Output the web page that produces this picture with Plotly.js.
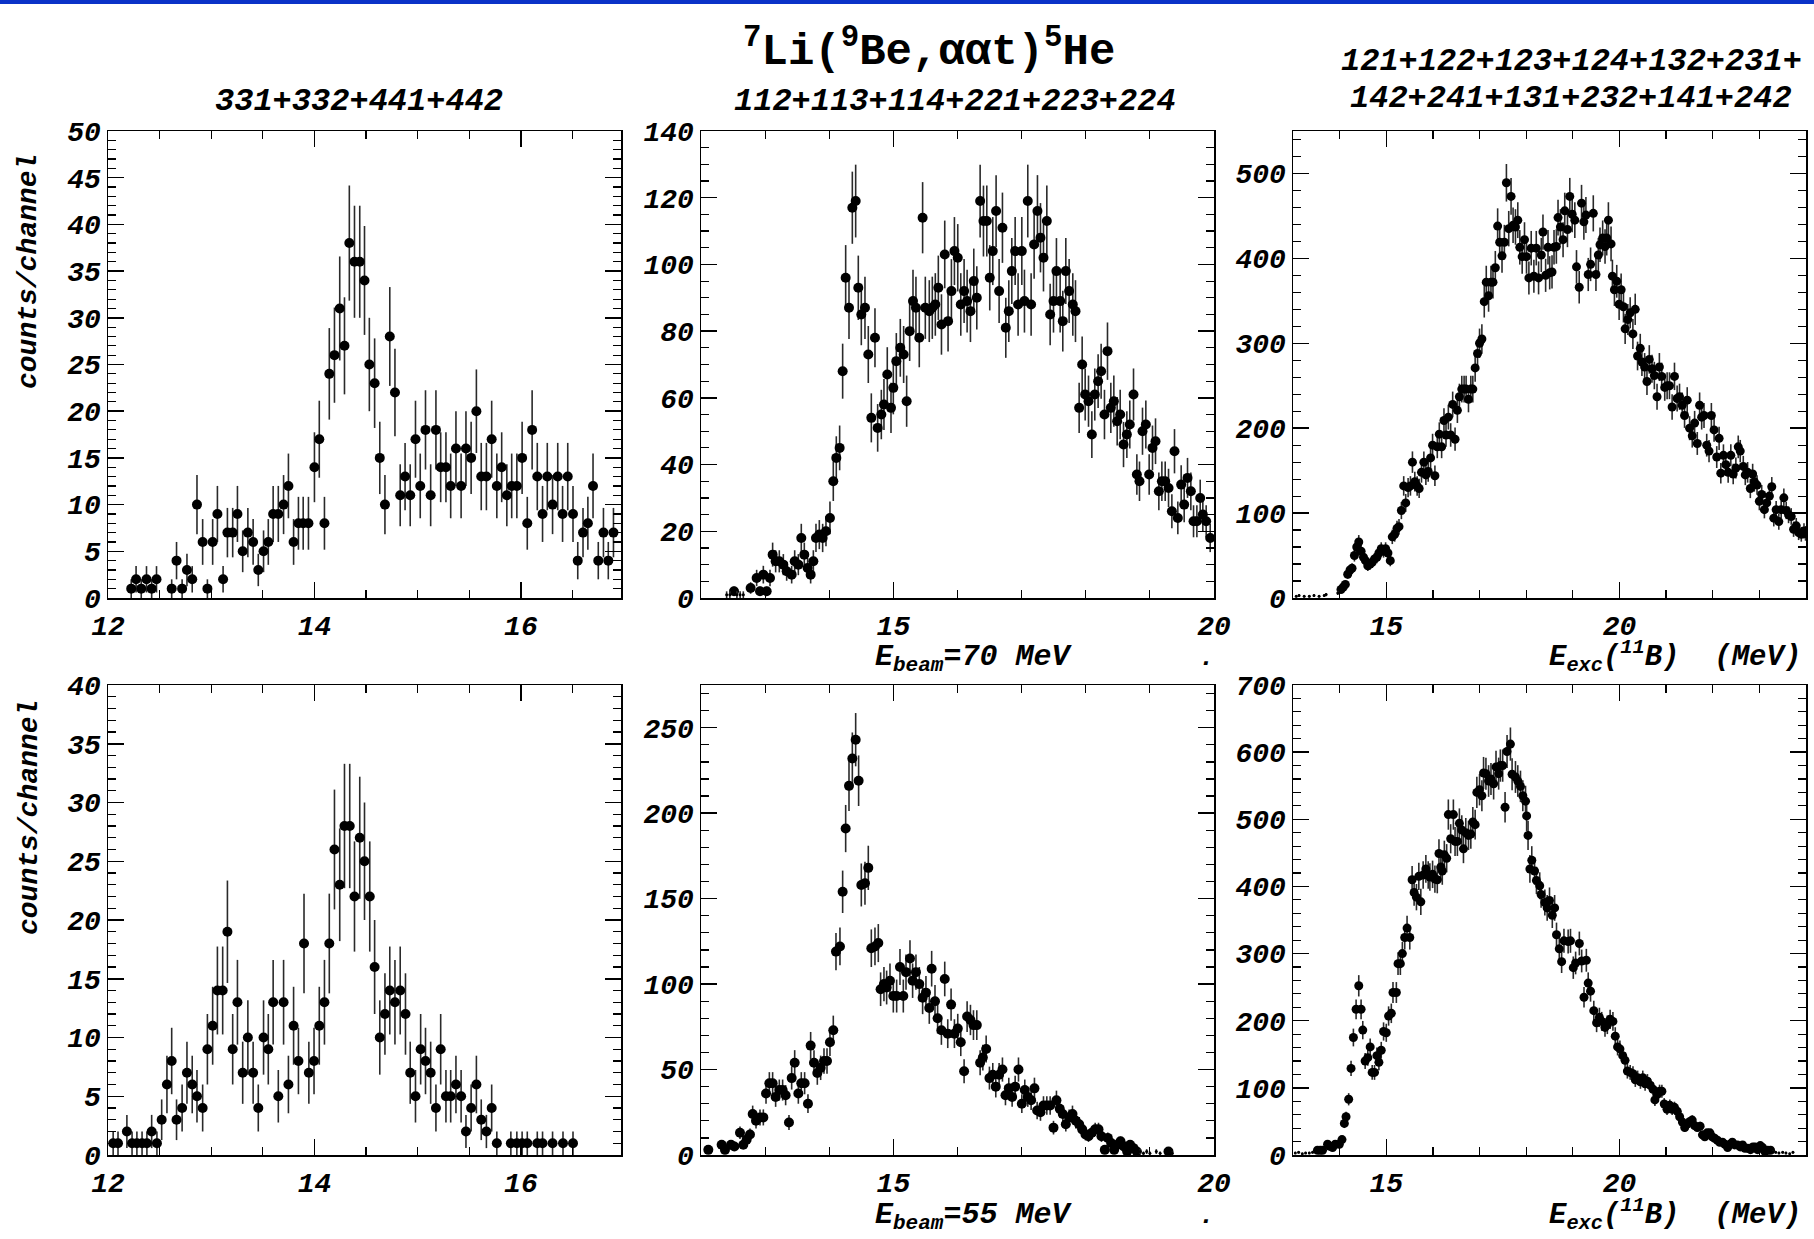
<!DOCTYPE html>
<html><head><meta charset="utf-8">
<script src="https://cdn.plot.ly/plotly-3.0.1.min.js"></script>
<style>html,body{margin:0;padding:0;background:#fff;}#chart{width:1814px;height:1239px;}</style>
</head><body><div id="chart"></div>
<script>
// ---------- DATA ----------
// Top-left: 331+332+441+442, E_beam = 70 MeV
const tlX = [12.225,12.272,12.322,12.373,12.423,12.470,12.617,12.664,12.718,12.765,
 12.816,12.862,12.917,12.963,13.014,13.060,13.115,13.157,13.208,13.254,
 13.305,13.355,13.406,13.456,13.507,13.553,13.600,13.650,13.701,13.748,
 13.798,13.845,13.891,13.942,14.000,14.047,14.097,14.144,14.194,14.245,
 14.291,14.338,14.388,14.439,14.485,14.532,14.583,14.633,14.683,14.730,
 14.780,14.831,14.878,14.928,14.979,15.025,15.076,15.126,15.177,15.223,
 15.274,15.320,15.371,15.421,15.468,15.518,15.569,15.616,15.666,15.717,
 15.767,15.814,15.864,15.911,15.961,16.012,16.062,16.109,16.159,16.210,
 16.256,16.307,16.357,16.404,16.454,16.505,16.551,16.602,16.649,16.699,
 16.750,16.800,16.847,16.897];
const tlY = [1,2,1,2,1,2,1,4,1,3,
 2,10,6,1,6,9,2,7,7,9,
 5,7,6,3,5,6,9,9,10,12,
 6,8,8,8,14,17,8,24,26,31,
 27,38,36,36,34,25,23,15,10,28,
 22,11,13,11,17,12,18,11,18,14,
 14,12,16,12,16,15,20,13,13,17,
 12,14,11,12,12,15,8,18,13,9,
 13,10,13,9,13,9,4,7,8,12,
 4,7,4,7];

// Top-middle: 112+113+114+221+223+224, E_beam = 70 MeV
const tmX = [12.515,12.774,12.868,12.920,12.972,13.024,13.076,13.117,13.164,13.221,
 13.284,13.336,13.414,13.461,13.518,13.564,13.611,13.663,13.710,13.752,
 13.793,13.845,13.897,13.949,14.011,14.063,14.110,14.162,14.209,14.256,
 14.308,14.360,14.412,14.453,14.500,14.557,14.609,14.656,14.713,14.755,
 14.812,14.853,14.905,14.963,14.999,15.046,15.108,15.160,15.207,15.254,
 15.306,15.352,15.404,15.456,15.498,15.560,15.607,15.654,15.701,15.750,
 15.801,15.853,15.905,15.952,16.004,16.051,16.103,16.150,16.202,16.254,
 16.301,16.353,16.405,16.457,16.503,16.550,16.602,16.649,16.701,16.753,
 16.800,16.847,16.899,16.945,17.003,17.044,17.096,17.148,17.195,17.247,
 17.294,17.341,17.393,17.445,17.497,17.543,17.601,17.642,17.689,17.741,
 17.798,17.840,17.897,17.944,17.991,18.043,18.095,18.141,18.193,18.240,
 18.292,18.339,18.391,18.438,18.490,18.537,18.589,18.641,18.687,18.745,
 18.797,18.838,18.885,18.937,18.989,19.041,19.088,19.140,19.187,19.239,
 19.291,19.343,19.384,19.436,19.488,19.535,19.587,19.639,19.681,19.733,
 19.785,19.826,19.878,19.941];
const tmY = [2,3,6,2,7,2,6,13,11,11,
 10,8,7,11,10,18,13,9,7,11,
 18,19,18,20,24,35,42,45,68,96,
 87,117,119,93,85,87,73,54,78,51,
 55,58,67,57,63,71,75,73,59,80,
 89,87,78,114,87,86,87,88,93,82,
 103,83,92,104,102,88,92,89,86,95,
 90,119,113,113,96,104,116,92,111,81,
 86,98,104,88,104,89,119,88,106,116,
 108,102,113,85,89,98,89,83,98,92,
 88,86,57,70,61,59,49,61,65,68,
 55,74,57,59,53,55,46,49,52,61,
 37,35,50,52,37,45,47,32,35,35,
 33,26,44,24,34,28,36,32,23,23,
 30,25,23,18];
const tmLowX = [12.40,12.45,12.56,12.61,12.66];
const tmLowY = [1,1,1,1,1];

// Top-right: sum of all combinations, E_beam = 70 MeV
const trX = [14.029,14.079,14.122,14.173,14.223,14.266,14.317,14.367,14.410,14.460,
 14.511,14.554,14.604,14.655,14.698,14.748,14.799,14.842,14.892,14.942,
 14.986,15.036,15.086,15.129,15.180,15.230,15.273,15.324,15.374,15.417,
 15.468,15.518,15.561,15.612,15.662,15.705,15.755,15.806,15.849,15.899,
 15.950,15.993,16.043,16.094,16.137,16.187,16.237,16.281,16.331,16.381,
 16.424,16.475,16.525,16.568,16.619,16.669,16.712,16.763,16.813,16.856,
 16.906,16.957,17.000,17.050,17.101,17.144,17.194,17.245,17.288,17.338,
 17.388,17.432,17.482,17.532,17.576,17.626,17.676,17.719,17.770,17.820,
 17.863,17.914,17.964,18.007,18.058,18.108,18.165,18.216,18.266,18.324,
 18.360,18.417,18.468,18.504,18.554,18.597,18.647,18.683,18.734,18.791,
 18.827,18.885,18.935,18.986,19.043,19.079,19.137,19.187,19.237,19.281,
 19.331,19.381,19.439,19.496,19.547,19.583,19.640,19.691,19.727,19.763,
 19.820,19.849,19.892,19.942,19.993,20.036,20.086,20.122,20.180,20.230,
 20.288,20.338,20.388,20.446,20.482,20.540,20.590,20.640,20.698,20.748,
 20.806,20.856,20.906,20.971,21.022,21.072,21.129,21.180,21.237,21.288,
 21.345,21.396,21.453,21.504,21.561,21.612,21.669,21.719,21.763,21.813,
 21.871,21.921,21.971,22.029,22.086,22.137,22.173,22.230,22.281,22.331,
 22.388,22.439,22.496,22.547,22.590,22.655,22.698,22.748,22.806,22.856,
 22.892,22.950,23.000,23.050,23.108,23.158,23.216,23.266,23.309,23.360,
 23.417,23.468,23.525,23.576,23.626,23.683,23.734,23.791,23.842,23.899,
 23.957,23.990];
const trY = [10,13,16,28,33,35,50,60,66,55,
 48,44,38,40,42,46,48,53,58,55,
 58,53,44,72,75,82,84,103,132,112,
 130,132,160,137,132,129,148,160,145,149,
 165,180,144,178,193,178,209,192,213,192,
 228,187,221,237,246,246,246,234,246,246,
 271,288,300,305,349,372,356,372,372,389,
 438,419,403,419,489,435,473,439,437,445,
 413,402,422,402,377,412,379,412,377,404,
 431,380,413,383,384,413,414,448,437,422,
 456,434,473,452,445,390,366,465,443,451,
 381,393,453,381,404,416,424,414,424,445,
 417,379,363,373,346,363,343,317,328,336,
 311,340,285,294,278,272,255,281,270,262,
 237,272,261,248,250,250,225,261,235,237,
 227,215,233,200,191,206,182,227,213,215,
 180,173,215,198,166,188,147,168,157,148,
 168,146,153,178,173,155,145,148,129,146,
 137,133,114,122,104,112,120,131,94,104,
 90,104,118,103,98,96,81,85,77,75,
 79,76];
const trLowX = [13.07,13.13,13.24,13.35,13.45,13.56,13.67,13.71,13.96];
const trLowY = [2,3,2,2,3,2,3,4,6];

// Bottom-left: 331+332+441+442, E_beam = 55 MeV
const blX = [12.050,12.097,12.183,12.233,12.280,12.330,12.377,12.423,12.474,12.520,
 12.571,12.617,12.664,12.718,12.765,12.816,12.862,12.917,12.963,13.014,
 13.060,13.111,13.157,13.208,13.254,13.305,13.355,13.406,13.456,13.507,
 13.553,13.600,13.650,13.701,13.748,13.798,13.845,13.899,13.946,13.996,
 14.047,14.097,14.144,14.194,14.245,14.291,14.342,14.388,14.439,14.485,
 14.536,14.583,14.633,14.683,14.730,14.780,14.831,14.882,14.928,14.979,
 15.029,15.076,15.126,15.177,15.223,15.274,15.320,15.371,15.421,15.468,
 15.518,15.569,15.616,15.666,15.717,15.767,15.903,15.961,16.012,16.062,
 16.159,16.210,16.307,16.408,16.505];
const blY = [1,1,2,1,1,1,1,2,1,3,
 6,8,3,4,7,6,5,4,9,11,
 14,14,19,9,13,7,10,7,4,10,
 9,13,5,13,6,11,8,18,7,8,
 11,13,18,26,23,28,28,22,27,25,
 22,16,10,12,14,13,14,12,7,5,
 9,8,7,4,9,5,5,6,5,2,
 4,6,3,2,4,1,1,1,1,1,
 1,1,1,1,1];

// Bottom-middle: 112+113+114+221+223+224, E_beam = 55 MeV
const bmX = [12.114,12.322,12.374,12.468,12.520,12.608,12.660,12.712,12.764,12.806,
 12.858,12.920,12.972,13.014,13.066,13.117,13.164,13.221,13.273,13.320,
 13.372,13.414,13.461,13.518,13.564,13.616,13.668,13.710,13.762,13.814,
 13.866,13.918,13.965,14.011,14.063,14.105,14.167,14.209,14.256,14.308,
 14.360,14.412,14.458,14.500,14.557,14.609,14.656,14.713,14.765,14.801,
 14.853,14.895,14.947,14.999,15.051,15.103,15.155,15.197,15.259,15.300,
 15.352,15.404,15.456,15.508,15.560,15.597,15.649,15.690,15.749,15.801,
 15.848,15.900,15.952,16.004,16.051,16.103,16.150,16.202,16.249,16.301,
 16.353,16.395,16.447,16.498,16.550,16.597,16.649,16.701,16.748,16.800,
 16.852,16.899,16.951,17.003,17.049,17.096,17.148,17.200,17.242,17.294,
 17.341,17.393,17.445,17.497,17.543,17.595,17.642,17.689,17.741,17.793,
 17.845,17.897,17.944,17.996,18.043,18.095,18.147,18.199,18.245,18.297,
 18.344,18.396,18.443,18.495,18.542,18.594,18.646,18.692,18.744,18.796,
 19.290];
const bmY = [3,6,3,6,5,13,6,9,12,24,
 20,22,22,36,42,42,34,38,38,35,
 19,45,54,36,42,42,30,64,54,48,
 51,55,55,66,73,119,122,154,191,216,
 232,243,219,158,159,168,121,122,124,97,
 100,98,102,93,93,110,93,107,115,102,
 107,100,92,95,86,109,90,80,73,103,
 71,88,71,74,66,49,81,79,76,76,
 54,57,62,45,47,40,47,50,35,39,
 34,40,50,30,38,34,32,39,26,25,
 29,29,29,16,32,27,24,18,22,24,
 20,18,15,12,11,13,15,15,11,3,
 10,7,3,6,8,5,2,6,4,2,
 2];
const bmLowX = [18.85,18.90,18.95,19.00,19.10,19.16,19.35];
const bmLowY = [2,1,2,1,2,1,1];

// Bottom-right: sum of all combinations, E_beam = 55 MeV
const brX = [13.525,13.583,13.633,13.741,13.791,13.849,13.906,13.993,14.050,14.101,
 14.137,14.194,14.245,14.295,14.353,14.410,14.460,14.496,14.547,14.604,
 14.655,14.698,14.748,14.799,14.842,14.892,14.942,15.000,15.050,15.108,
 15.144,15.216,15.252,15.302,15.345,15.396,15.446,15.504,15.554,15.597,
 15.647,15.698,15.741,15.791,15.849,15.899,15.935,15.993,16.043,16.094,
 16.130,16.170,16.201,16.245,16.295,16.331,16.381,16.439,16.475,16.525,
 16.568,16.619,16.655,16.705,16.763,16.813,16.856,16.906,16.942,17.000,
 17.050,17.086,17.137,17.194,17.245,17.302,17.353,17.410,17.446,17.496,
 17.547,17.590,17.662,17.698,17.770,17.820,17.878,17.928,17.986,18.010,
 18.040,18.080,18.120,18.180,18.220,18.290,18.320,18.400,18.450,18.500,
 18.560,18.610,18.650,18.710,18.760,18.810,18.900,18.950,19.010,19.060,
 19.140,19.190,19.240,19.290,19.330,19.380,19.450,19.510,19.570,19.620,
 19.690,19.740,19.800,19.860,19.910,19.960,20.010,20.070,20.120,20.170,
 20.230,20.290,20.340,20.390,20.450,20.500,20.550,20.600,20.660,20.720,
 20.760,20.810,20.860,20.910,20.960,21.020,21.080,21.130,21.180,21.240,
 21.290,21.350,21.400,21.450,21.510,21.560,21.610,21.670,21.730,21.780,
 21.830,21.880,21.940,21.990,22.040,22.100,22.150,22.210,22.260,22.320,
 22.370,22.420,22.470,22.530,22.590,22.640,22.690,22.750,22.810,22.860,
 22.910,22.960,23.020,23.070,23.120,23.180,23.240];
const brY = [7,7,7,16,13,11,16,16,23,47,
 57,83,129,175,217,252,217,186,140,145,
 161,123,123,148,138,156,184,182,207,211,
 242,242,285,285,300,324,338,324,410,391,
 384,415,377,417,426,417,414,418,411,410,
 449,429,423,447,442,507,471,507,467,467,
 494,484,456,480,476,478,496,492,540,544,
 535,569,568,557,560,553,578,568,580,580,
 518,601,612,567,563,557,549,535,527,505,
 476,426,439,423,409,401,388,376,368,379,
 357,368,328,307,288,319,318,319,279,286,
 315,289,235,290,256,244,215,197,205,199,
 190,194,202,199,177,161,158,148,141,125,
 123,121,112,115,109,115,106,110,104,98,
 82,90,95,95,76,68,74,68,71,65,
 57,49,41,46,50,52,44,41,43,30,
 27,33,33,27,25,22,19,19,16,11,
 16,19,15,15,12,15,10,10,8,12,
 12,8,14,11,5,7,7];
const brLowX = [13.05,13.12,13.20,13.27,13.35,13.42,23.29,23.35,23.42,23.50,23.57,23.65,23.72];
const brLowY = [3,4,2,3,3,4,5,4,3,4,3,2,4];

// Text
const mainTitle = '<sup>7</sup>Li(<sup>9</sup>Be,\u03b1\u03b1t)<sup>5</sup>He';
const subTL = '331+332+441+442';
const subTM = '112+113+114+221+223+224';
const subTR1 = '121+122+123+124+132+231+';
const subTR2 = '142+241+131+232+141+242';
const yTitle = 'counts/channel';
const xBeam70 = 'E<sub>beam</sub>=70 MeV';
const xBeam55 = 'E<sub>beam</sub>=55 MeV';
const xExc = 'E<sub>exc</sub>(<sup>11</sup>B)\u00a0\u00a0(MeV)';

// ---------- LAYOUT ----------
const W = 1814, H = 1239;
const FONT = '"Liberation Mono", "Courier New", monospace';
const tickFont = {family: FONT, size: 28, weight: 'bold', style: 'italic', color: '#000'};
const px = v => v / W, py = v => 1 - v / H;

const cols = [[108, 621], [701, 1214], [1293, 1806]];
const rows = [[131, 598], [685, 1155]];

function xAxis(col, row, range, dtick, minor, anchor) {
  return {
    domain: [px(cols[col][0]), px(cols[col][1])], range, dtick, tick0: 0,
    ticks: 'inside', ticklen: 16, tickwidth: 1.5, tickcolor: '#000',
    minor: {dtick: minor, tick0: 0, ticks: 'inside', ticklen: 8, tickwidth: 1.2, tickcolor: '#000', showgrid: false},
    showline: true, linecolor: '#000', linewidth: 1.5, mirror: 'allticks',
    showgrid: false, zeroline: false, anchor, tickfont: tickFont, ticklabelstandoff: 2, fixedrange: true
  };
}
function yAxis(col, row, range, dtick, minor, anchor) {
  return {
    domain: [py(rows[row][1]), py(rows[row][0])], range, dtick, tick0: 0,
    ticks: 'inside', ticklen: 16, tickwidth: 1.5, tickcolor: '#000',
    minor: {dtick: minor, tick0: 0, ticks: 'inside', ticklen: 8, tickwidth: 1.2, tickcolor: '#000', showgrid: false},
    showline: true, linecolor: '#000', linewidth: 1.5, mirror: 'allticks',
    showgrid: false, zeroline: false, anchor, tickfont: tickFont, fixedrange: true
  };
}

function pts(x, y, n, size) {
  return {
    type: 'scatter', mode: 'markers', x, y,
    xaxis: n === 1 ? 'x' : 'x' + n, yaxis: n === 1 ? 'y' : 'y' + n,
    marker: {color: '#000', size},
    error_y: {type: 'sqrt', visible: true, color: '#2a2a2a', thickness: 1.6, width: 0},
    hoverinfo: 'skip', showlegend: false, cliponaxis: true
  };
}

const data = [
  pts(tlX, tlY, 1, 10),
  pts(tmX, tmY, 2, 10), pts(tmLowX, tmLowY, 2, 3),
  pts(trX, trY, 3, 9), pts(trLowX, trLowY, 3, 3),
  pts(blX, blY, 4, 10),
  pts(bmX, bmY, 5, 10), pts(bmLowX, bmLowY, 5, 3),
  pts(brX, brY, 6, 9), pts(brLowX, brLowY, 6, 3)
];

function ann(text, x, y, size, opts) {
  return Object.assign({
    text, x, y, xref: 'paper', yref: 'paper', showarrow: false,
    xanchor: 'center', yanchor: 'middle',
    font: {family: FONT, size, weight: 'bold', style: 'italic', color: '#000'}
  }, opts || {});
}

const layout = {
  width: W, height: H, margin: {l: 0, r: 0, t: 0, b: 0},
  paper_bgcolor: '#fff', plot_bgcolor: '#fff', showlegend: false,
  xaxis:  xAxis(0, 0, [12, 16.97], 2, 0.5, 'y'),
  yaxis:  yAxis(0, 0, [0, 50], 5, 1, 'x'),
  xaxis2: xAxis(1, 0, [12, 20], 5, 1, 'y2'),
  yaxis2: yAxis(1, 0, [0, 140], 20, 5, 'x2'),
  xaxis3: xAxis(2, 0, [13, 24], 5, 1, 'y3'),
  yaxis3: yAxis(2, 0, [0, 550], 100, 20, 'x3'),
  xaxis4: xAxis(0, 1, [12, 16.97], 2, 0.5, 'y4'),
  yaxis4: yAxis(0, 1, [0, 40], 5, 1, 'x4'),
  xaxis5: xAxis(1, 1, [12, 20], 5, 1, 'y5'),
  yaxis5: yAxis(1, 1, [0, 275], 50, 10, 'x5'),
  xaxis6: xAxis(2, 1, [13, 24], 5, 1, 'y6'),
  yaxis6: yAxis(2, 1, [0, 700], 100, 20, 'x6'),
  shapes: [{type: 'rect', xref: 'paper', yref: 'paper', x0: 0, x1: 1, y0: py(4), y1: 1,
            fillcolor: '#0a32c8', line: {width: 0}, layer: 'above'}],
  annotations: [
    ann(mainTitle, px(929), py(49), 44, {font: {family: FONT, size: 44, weight: 'bold', color: '#000'}}),
    ann(subTL, px(359), py(102), 32),
    ann(subTM, px(955), py(102), 32),
    ann(subTR1, px(1571), py(62), 32),
    ann(subTR2, px(1571), py(98), 32),
    ann(yTitle, px(29), py(272), 28, {textangle: -90}),
    ann(yTitle, px(29), py(818), 28, {textangle: -90}),
    ann(xBeam70, px(873), py(679), 30, {xanchor: 'left', yanchor: 'bottom'}),
    ann('.', px(1207), py(675), 26, {yanchor: 'bottom'}),
    ann(xExc, px(1803), py(679), 29, {xanchor: 'right', yanchor: 'bottom'}),
    ann(xBeam55, px(873), py(1237), 30, {xanchor: 'left', yanchor: 'bottom'}),
    ann('.', px(1207), py(1233), 26, {yanchor: 'bottom'}),
    ann(xExc, px(1803), py(1237), 29, {xanchor: 'right', yanchor: 'bottom'})
  ]
};

Plotly.newPlot('chart', data, layout, {staticPlot: true, displayModeBar: false});
</script>
</body></html>
